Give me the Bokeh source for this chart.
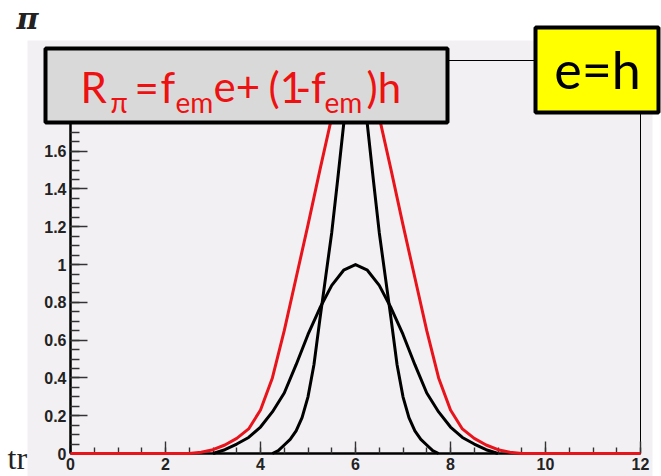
from bokeh.plotting import figure
from bokeh.models import FixedTicker, Label, BoxAnnotation, LinearAxis
from bokeh.embed import file_html
from bokeh.resources import INLINE

# ---------------- data ----------------
red_x = [0.0, 2.5, 2.75, 3.0, 3.25, 3.5, 3.75, 4.0, 4.25, 4.5, 4.75, 5.0, 5.25, 5.5, 5.75, 6.0,
         6.25, 6.5, 6.75, 7.0, 7.25, 7.5, 7.75, 8.0, 8.25, 8.5, 8.75, 9.0, 9.25, 9.5, 12.0]
red_y = [0.0, 0.0, 0.007, 0.02, 0.045, 0.08, 0.13, 0.23, 0.40, 0.65, 0.93, 1.21, 1.50, 1.78, 1.98, 2.05,
         1.98, 1.78, 1.50, 1.21, 0.93, 0.65, 0.40, 0.23, 0.13, 0.08, 0.045, 0.02, 0.007, 0.0, 0.0]

wide_x = [3.0, 3.25, 3.5, 3.75, 4.0, 4.25, 4.5, 4.75, 5.0, 5.25, 5.5, 5.75, 6.0,
          6.25, 6.5, 6.75, 7.0, 7.25, 7.5, 7.75, 8.0, 8.25, 8.5, 8.75, 9.0]
wide_y = [0.0, 0.02, 0.05, 0.085, 0.14, 0.22, 0.32, 0.47, 0.63, 0.77, 0.89, 0.97, 1.0,
          0.97, 0.89, 0.77, 0.63, 0.47, 0.32, 0.22, 0.14, 0.085, 0.05, 0.02, 0.0]

narrow_x = [4.25, 4.375, 4.5, 4.625, 4.75, 4.875, 5.0, 5.125, 5.25, 5.375, 5.5, 5.625, 5.75, 5.875, 6.0,
            6.125, 6.25, 6.375, 6.5, 6.625, 6.75, 6.875, 7.0, 7.125, 7.25, 7.375, 7.5, 7.625, 7.75]
narrow_y = [0.0, 0.015, 0.045, 0.075, 0.12, 0.19, 0.30, 0.47, 0.71, 0.94, 1.17, 1.45, 1.74, 1.93, 2.0,
            1.93, 1.74, 1.45, 1.17, 0.94, 0.71, 0.47, 0.30, 0.19, 0.12, 0.075, 0.045, 0.015, 0.0]

x_ticks = [0, 2, 4, 6, 8, 10, 12]
x_tick_labels = ["0", "2", "4", "6", "8", "10", "12"]
y_ticks = [0.0, 0.2, 0.4, 0.6, 0.8, 1.0, 1.2, 1.4, 1.6, 1.8, 2.0]
y_tick_labels = ["0", "0.2", "0.4", "0.6", "0.8", "1", "1.2", "1.4", "1.6", "1.8", "2"]

formula_parts = ["R", "π", "=", "f", "em", "e+", "(1", "-f", "em", ")h"]
box_text = "e=h"

# ---------------- layout ----------------
W, H = 661, 476
FL, FR, FT, FB = 70, 640, 60, 453     # pixel edges of the data frame
X_MAX, Y_MAX = 12.0, 2.08


def px(xp):
    return (xp - FL) * X_MAX / (FR - FL)


def py(yp):
    return (FB - yp) * Y_MAX / (FB - FT)


PAD = "#f3f0f3"

p = figure(width=W, height=H, x_range=(px(0), px(W)), y_range=(py(H), py(0)),
           output_backend="svg", toolbar_location=None,
           x_axis_type=None, y_axis_type=None,
           min_border_left=0, min_border_right=0, min_border_top=0, min_border_bottom=0)
p.background_fill_color = "white"
p.border_fill_color = "white"
p.outline_line_color = None
p.grid.visible = False

# pad background (ROOT canvas)
p.add_layout(BoxAnnotation(left=px(27), right=px(652), top=py(40), bottom=py(H + 5),
                           fill_color=PAD, fill_alpha=1, line_color=None, level="image"))
# frame outline
p.add_layout(BoxAnnotation(left=0, right=X_MAX, top=Y_MAX, bottom=0,
                           fill_color=None, line_color="black", line_width=1,
                           line_alpha=1, level="image"))

xaxis = LinearAxis(fixed_location=0, bounds=(0, X_MAX))
yaxis = LinearAxis(fixed_location=0, bounds=(0, Y_MAX))
p.add_layout(xaxis, "below")
p.add_layout(yaxis, "left")

for ax in (xaxis, yaxis):
    ax.level = "underlay"
    ax.axis_line_color = "black"
    ax.axis_line_width = 2.5
    ax.major_tick_out = 0
    ax.minor_tick_out = 0
    ax.major_tick_line_color = "#333333"
    ax.minor_tick_line_color = "#333333"
    ax.major_tick_line_width = 1.4
    ax.minor_tick_line_width = 1.4
    ax.major_label_text_font = "Liberation Sans"
    ax.major_label_text_font_style = "bold"
    ax.major_label_text_font_size = "16px"
    ax.major_label_text_color = "#222222"
    ax.major_label_standoff = 4

xaxis.ticker = FixedTicker(ticks=x_ticks, minor_ticks=[i * 0.5 for i in range(25)])
xaxis.major_label_overrides = {t: l for t, l in zip(x_ticks, x_tick_labels)}
xaxis.major_tick_in = 12
xaxis.minor_tick_in = 6

yaxis.ticker = FixedTicker(ticks=y_ticks, minor_ticks=[i * 0.05 for i in range(42)])
yaxis.major_label_overrides = {t: l for t, l in zip(y_ticks, y_tick_labels)}
yaxis.major_tick_in = 17
yaxis.minor_tick_in = 9

# curves
p.line(red_x, red_y, line_color="#e8141c", line_width=3, line_join="round")
p.line(wide_x, wide_y, line_color="black", line_width=3, line_join="round")
p.line(narrow_x, narrow_y, line_color="black", line_width=3, line_join="round")

# boxes
p.add_layout(BoxAnnotation(left=px(45), right=px(447), top=py(48), bottom=py(122),
                           fill_color="#d9d9d9", fill_alpha=1, line_color="black",
                           line_width=4, line_alpha=1))
p.add_layout(BoxAnnotation(left=px(535), right=px(658), top=py(27), bottom=py(112),
                           fill_color="#ffff00", fill_alpha=1, line_color="black",
                           line_width=4, line_alpha=1))


def add_text(txt, xp, base, size, font="Lato", color="black", corr=0.38,
             align="left", style="normal"):
    # corr compensates the renderer's baseline offset (fraction of font size)
    p.add_layout(Label(x=px(xp), y=py(base - corr * size), text=txt, text_font=font,
                       text_font_size=f"{size}px", text_color=color,
                       text_font_style=style, text_baseline="alphabetic",
                       text_align=align))


RED = "#ee1111"
BIG, SMALL = 42, 28
pos = [(80, 102, BIG), (110, 112, SMALL), (134, 102, BIG), (160, 102, BIG), (175, 112, SMALL),
       (213, 102, BIG), (268, 102, BIG), (295, 102, BIG), (324, 112, SMALL), (366, 102, BIG)]
for txt, (xp, base, fs) in zip(formula_parts, pos):
    add_text(txt, xp, base, fs, color=RED)

add_text(box_text, 597, 88, 52, align="center")

# slide remnants
add_text("tr", 7, 466, 32, font="Liberation Serif", color="#222222", corr=0.27)
add_text("π", 16, 25, 30, font="DejaVu Serif", color="#222222", corr=0.23,
         style="bold italic")

open("out.html", "w", encoding="utf-8").write(file_html(p, INLINE))
